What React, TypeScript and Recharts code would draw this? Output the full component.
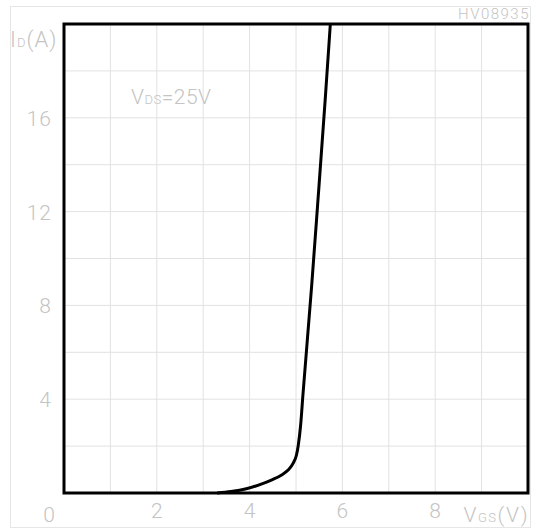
import React from "react";
import { LineChart, Line, XAxis, YAxis, CartesianGrid, ReferenceArea } from "recharts";

const vgs = [3.3, 3.6, 3.93, 4.25, 4.48, 4.69, 4.83, 4.94, 5.01, 5.05, 5.1, 5.15, 5.34, 5.47, 5.63, 5.74];
const idA = [0, 0.06, 0.18, 0.38, 0.56, 0.77, 0.98, 1.27, 1.62, 2.05, 2.9, 4.2, 8.9, 12.4, 16.8, 20];
const xTicks = [0, 1, 2, 3, 4, 5, 6, 7, 8, 9, 10];
const yTicks = [0, 2, 4, 6, 8, 10, 12, 14, 16, 18, 20];
const xLabels = [2, 4, 6, 8];
const yLabels = [4, 8, 12, 16];

const data = vgs.map((v, i) => ({ v, id: idA[i] }));

const FONT = "Roboto, 'DejaVu Sans', sans-serif";
const TXT = "#c4c4c4";

const XTick = (props: any) => {
  const val = props.payload.value;
  if (!xLabels.includes(val)) return <g />;
  return (
    <text x={props.x} y={props.y + 25} textAnchor="middle" fill={TXT} fontSize={21} fontWeight={300} fontFamily={FONT}>
      {val}
    </text>
  );
};

const YTick = (props: any) => {
  const val = props.payload.value;
  if (!yLabels.includes(val)) return <g />;
  return (
    <text x={props.x - 12} y={props.y + 8} textAnchor="end" fill={TXT} fontSize={21} fontWeight={300} fontFamily={FONT} letterSpacing={1}>
      {val}
    </text>
  );
};

export default function App() {
  return (
    <div style={{ position: "absolute", left: 0, top: 0, width: 539, height: 532, background: "#fff" }}>
      <LineChart width={539} height={532} data={data} margin={{ top: 24, right: 11, bottom: 9, left: 14 }}>
        <CartesianGrid stroke="#e2e2e2" strokeWidth={1} />
        <XAxis
          type="number"
          dataKey="v"
          domain={[0, 10]}
          ticks={xTicks}
          height={30}
          tickLine={false}
          tickSize={0}
          tickMargin={0}
          axisLine={false}
          tick={<XTick />}
          interval={0}
        />
        <YAxis
          type="number"
          domain={[0, 20]}
          ticks={yTicks}
          width={50}
          tickLine={false}
          tickSize={0}
          tickMargin={0}
          axisLine={false}
          tick={<YTick />}
          interval={0}
        />
        <ReferenceArea x1={0} x2={10} y1={0} y2={20} fill="none" stroke="#000" strokeWidth={3} ifOverflow="visible" />
        <Line
          type="monotone"
          dataKey="id"
          stroke="#000"
          strokeWidth={3}
          dot={false}
          isAnimationActive={false}
        />
      </LineChart>
      <svg width={539} height={532} style={{ position: "absolute", left: 0, top: 0, pointerEvents: "none" }}>
        <rect x={10.5} y={6.5} width={520} height={521} fill="none" stroke="#e6e6e6" strokeWidth={1} />
        <text x={530} y={19} textAnchor="end" fill={TXT} fontSize={15} fontWeight={300} fontFamily={FONT} letterSpacing={1.5}>
          HV08935
        </text>
        <text x={10} y={47} fill={TXT} fontSize={22} fontWeight={300} fontFamily={FONT} letterSpacing={1}>
          I<tspan fontSize={13}>D</tspan>(A)
        </text>
        <text x={131} y={104} fill={TXT} fontSize={21} fontWeight={300} fontFamily={FONT} letterSpacing={0.5}>
          V<tspan fontSize={13}>DS</tspan>=25V
        </text>
        <text x={49} y={522} textAnchor="middle" fill={TXT} fontSize={21} fontWeight={300} fontFamily={FONT}>
          0
        </text>
        <text x={529} y={522} textAnchor="end" fill={TXT} fontSize={21} fontWeight={300} fontFamily={FONT} letterSpacing={1.5}>
          V<tspan fontSize={13}>GS</tspan>(V)
        </text>
      </svg>
    </div>
  );
}
